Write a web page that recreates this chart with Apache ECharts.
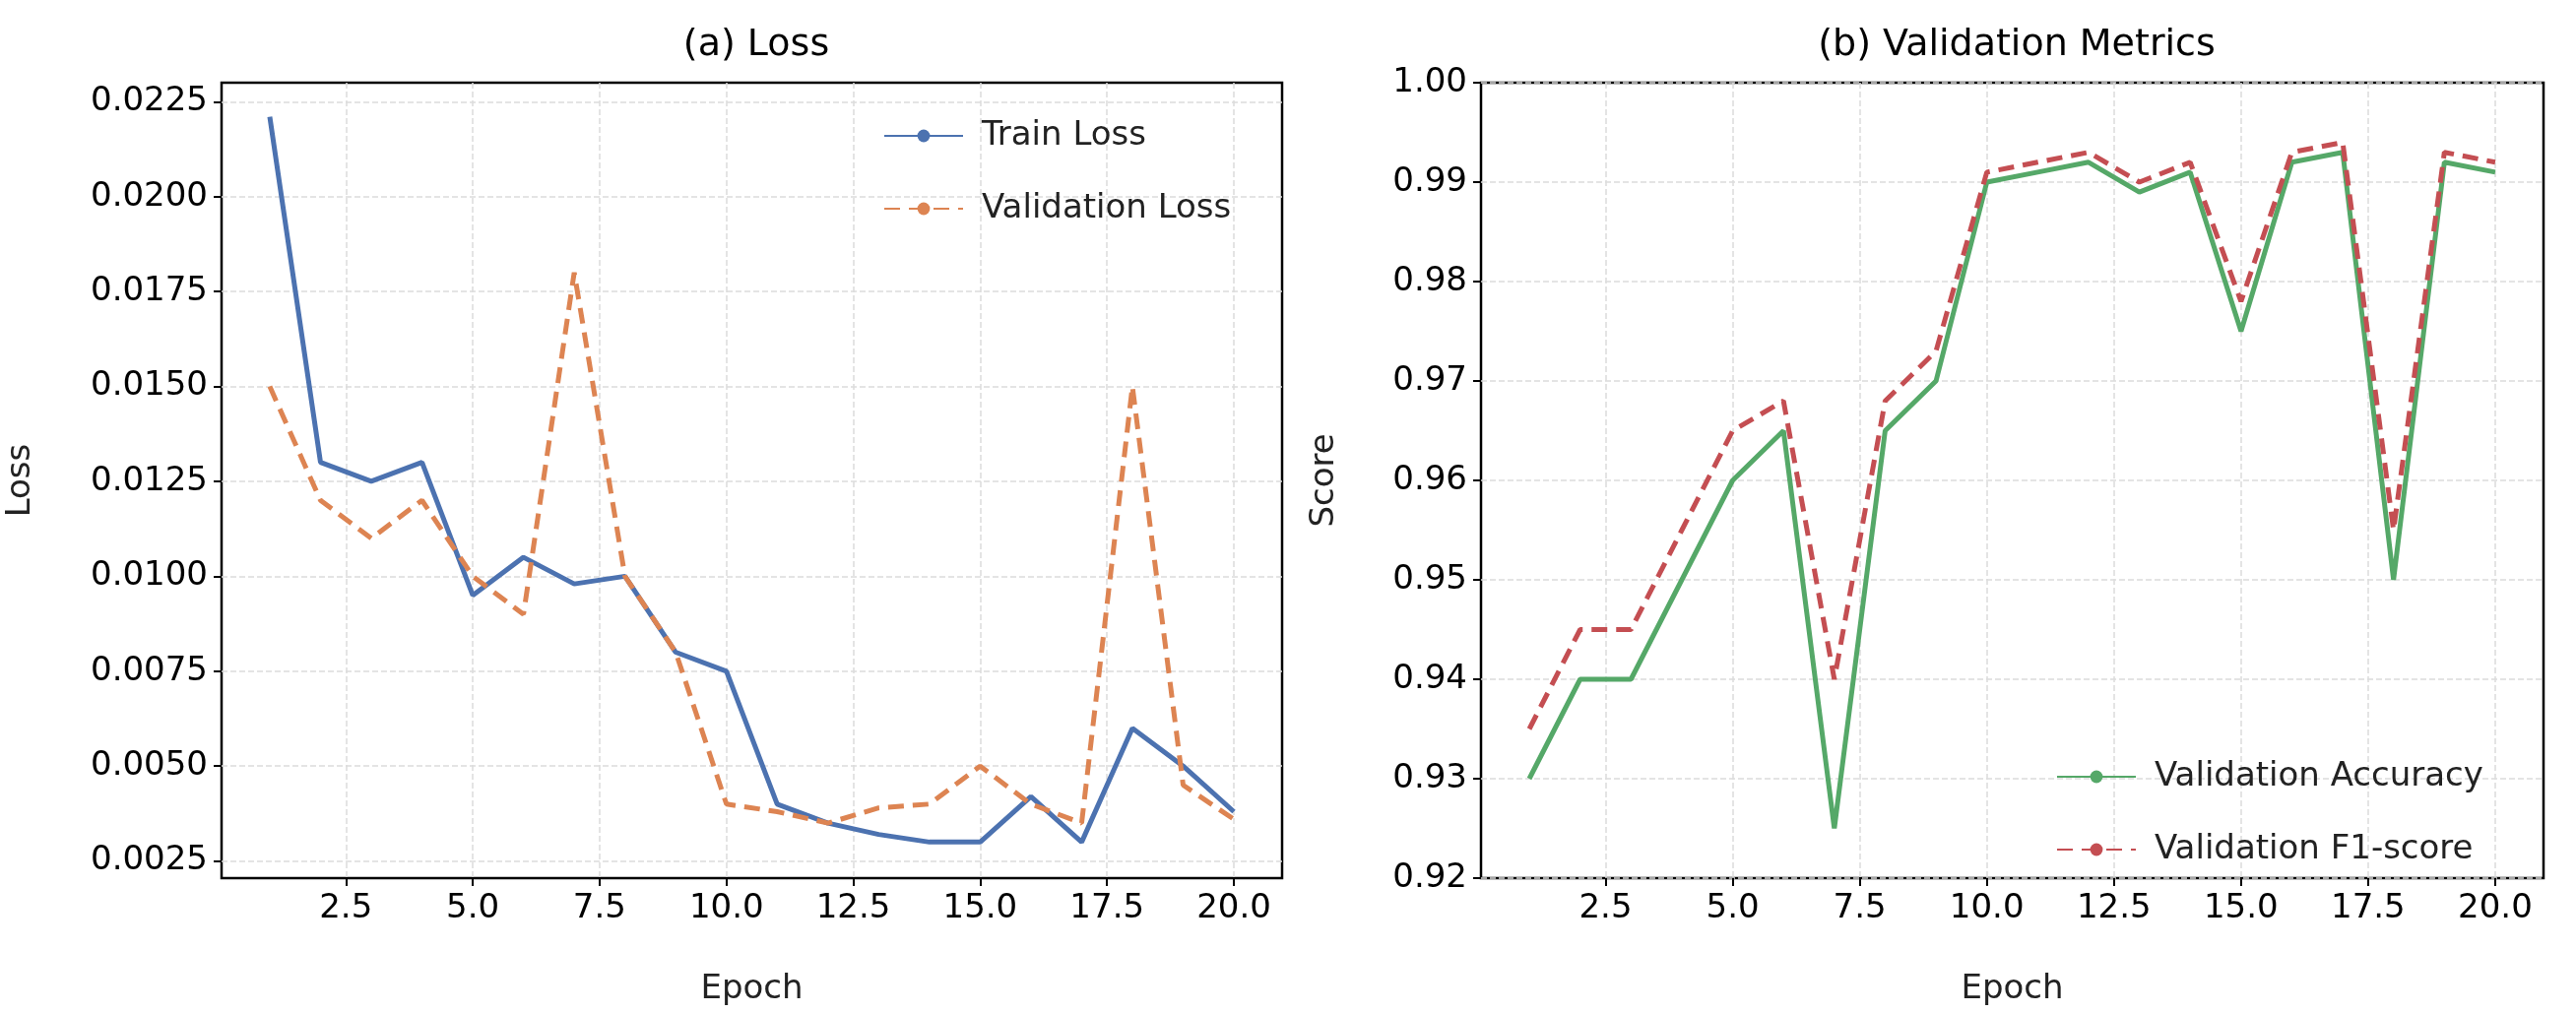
<!DOCTYPE html>
<html lang="en">
<head>
<meta charset="UTF-8">
<title>Training curves</title>
<script src="https://cdn.jsdelivr.net/npm/echarts@6/dist/echarts.min.js"></script>
</head>
<style>
html,body{margin:0;padding:0;background:#fff}
#chartBox{width:2616px;height:1029px}
</style>
<body>
<div id="chartBox"></div>
<script>
// data
const epochs = [1,2,3,4,5,6,7,8,9,10,11,12,13,14,15,16,17,18,19,20];
const trainLoss = [0.0221,0.0130,0.0125,0.0130,0.0095,0.0105,0.0098,0.0100,0.0080,0.0075,0.0040,0.0035,0.0032,0.0030,0.0030,0.0042,0.0030,0.0060,0.0050,0.0038];
const valLoss = [0.0150,0.0120,0.0110,0.0120,0.0100,0.0090,0.0180,0.0100,0.0080,0.0040,0.0038,0.0035,0.0039,0.0040,0.0050,0.0040,0.0035,0.0150,0.0045,0.0036];
const valAcc = [0.930,0.940,0.940,0.950,0.960,0.965,0.925,0.965,0.970,0.990,0.991,0.992,0.989,0.991,0.975,0.992,0.993,0.950,0.992,0.991];
const valF1 = [0.935,0.945,0.945,0.955,0.965,0.968,0.940,0.968,0.973,0.991,0.992,0.993,0.990,0.992,0.978,0.993,0.994,0.955,0.993,0.992];
const xTicks = [2.5,5,7.5,10,12.5,15,17.5,20];
const lossTicks = [0.0025,0.005,0.0075,0.01,0.0125,0.015,0.0175,0.02,0.0225];
const scoreTicks = [0.92,0.93,0.94,0.95,0.96,0.97,0.98,0.99,1.00];

const FONT = 'DejaVu Sans';
const grid = (d) => ({type:'dashed', color:'#dcdcdc', width:1.5, dashOffset:0});
const pairs = (ys) => epochs.map((e,i)=>[e, ys[i]]);

function xAxis(idx){
    return {
        gridIndex: idx, type: 'value', min: 0.05, max: 20.95,
        name: 'Epoch', nameLocation: 'middle', nameGap: 96,
        nameTextStyle: {fontFamily: FONT, fontSize: 34, color: '#222'},
        axisLine: {show: false},
        axisTick: {show: true, length: 8, customValues: xTicks, lineStyle:{color:'#000', width:2}},
        axisLabel: {customValues: xTicks, formatter: v=>v.toFixed(1), fontFamily: FONT, fontSize: 34, color:'#000', margin: 14},
        splitLine: {show: true, lineStyle: grid()}
    };
}
function yAxis(idx, min, max, ticks, digits, name, gap){
    return {
        gridIndex: idx, type: 'value', min: min, max: max,
        name: name, nameLocation: 'middle', nameGap: gap, nameRotate: 90,
        nameTextStyle: {fontFamily: FONT, fontSize: 34, color: '#222'},
        axisLine: {show: false},
        axisTick: {show: true, length: 8, customValues: ticks, lineStyle:{color:'#000', width:2}},
        axisLabel: {customValues: ticks, formatter: v=>v.toFixed(digits), fontFamily: FONT, fontSize: 34, color:'#000', margin: 14},
        splitLine: {show: true, lineStyle: grid()}
    };
}
function line(name, ys, color, dashed, xi){
    return {
        type: 'line', name: name, xAxisIndex: xi, yAxisIndex: xi,
        data: pairs(ys), showSymbol: false, symbol: 'none',
        lineStyle: {color: color, width: 5, type: dashed ? [16, 9] : 'solid'},
        itemStyle: {color: color}, animation: false
    };
}

const chartObj = echarts.init(document.getElementById('chartBox'));
chartObj.setOption({
    backgroundColor: '#fff',
    animation: false,
    title: [
        {text: '(a) Loss', left: 763, top: 22, textAlign: 'center', textStyle: {fontFamily: FONT, fontSize: 38, fontWeight: 'normal', color:'#000'}},
        {text: '(b) Validation Metrics', left: 2043, top: 22, textAlign: 'center', textStyle: {fontFamily: FONT, fontSize: 38, fontWeight: 'normal', color:'#000'}}
    ],
    grid: [
        {left: 225, right: 1314, top: 84, bottom: 137, show: true, borderColor: '#000', borderWidth: 2.5, backgroundColor: 'transparent'},
        {left: 1504, right: 33, top: 84, bottom: 137, show: true, borderColor: '#000', borderWidth: 2.5, backgroundColor: 'transparent'}
    ],
    xAxis: [xAxis(0), xAxis(1)],
    yAxis: [
        yAxis(0, 0.00205, 0.0230, lossTicks, 4, 'Loss', 187),
        yAxis(1, 0.92, 1.00, scoreTicks, 2, 'Score', 142)
    ],
    legend: [
        {data: ['Train Loss', 'Validation Loss'], orient: 'vertical', left: 892, top: 116, itemWidth: 80, itemHeight: 16, itemGap: 40,
         textStyle: {fontFamily: FONT, fontSize: 34, color: '#222', padding: [0,0,0,14]}},
        {data: ['Validation Accuracy', 'Validation F1-score'], orient: 'vertical', left: 2083, top: 767, itemWidth: 80, itemHeight: 16, itemGap: 40,
         textStyle: {fontFamily: FONT, fontSize: 34, color: '#222', padding: [0,0,0,14]}}
    ],
    series: [
        line('Train Loss', trainLoss, '#4c72b0', false, 0),
        line('Validation Loss', valLoss, '#dd8452', true, 0),
        line('Validation Accuracy', valAcc, '#55a868', false, 1),
        line('Validation F1-score', valF1, '#c44e52', true, 1)
    ]
});
</script>
</body>
</html>
